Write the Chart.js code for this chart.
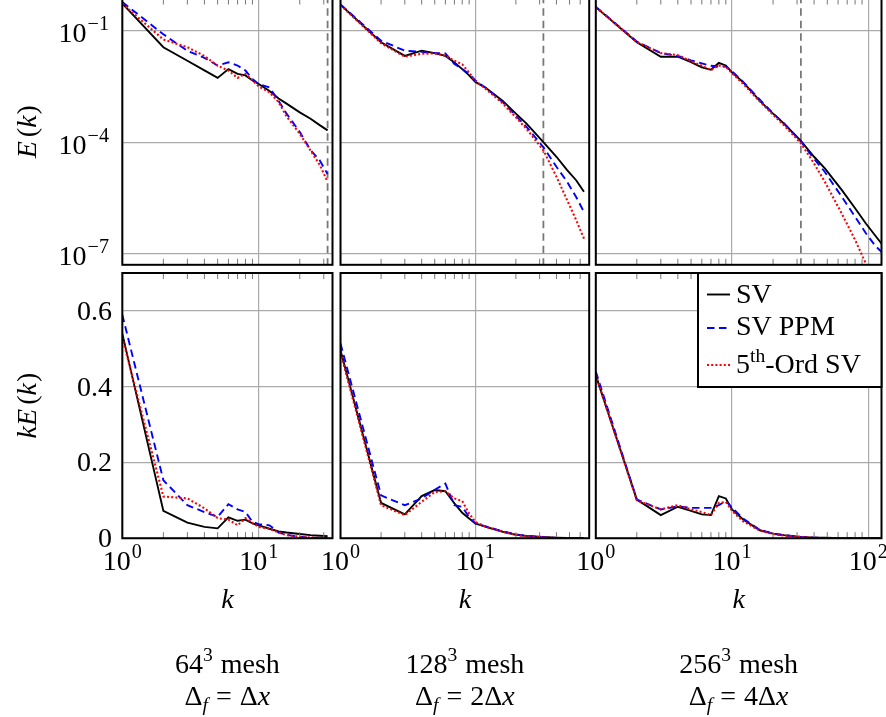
<!DOCTYPE html>
<html>
<head>
<meta charset="utf-8">
<title>Energy spectra</title>
<script src="https://cdn.jsdelivr.net/npm/chart.js@4.4.1/dist/chart.umd.min.js"></script>
<style>
  body { margin: 0; background: #fff; }
  #wrap { position: relative; width: 886px; height: 717px; overflow: hidden; }
  #wrap canvas { position: absolute; left: 0; top: -10px; }
</style>
</head>
<body>
<div id="wrap"></div>
<script>
// wavenumbers for each mesh
const k64 = [1, 2, 3, 4, 5, 6, 7, 8, 9, 10, 12, 14, 16, 20, 24, 28, 32]
const k128 = [1, 2, 3, 4, 5, 6, 7, 8, 9, 10, 12, 16, 20, 24, 32, 40, 48, 56, 64]
const k256 = [1, 2, 3, 4, 5, 6, 7, 8, 9, 10, 12, 16, 20, 24, 32, 40, 48, 64, 80, 96, 112, 128]

// E(k)
const E64_SV = [0.54, 0.036, 0.0156, 0.0086, 0.0054, 0.0093, 0.0069, 0.0063, 0.0046, 0.0037, 0.0024, 0.0015, 0.0011, 6.4e-4, 4.3e-4, 2.9e-4, 2.1e-4]
const E64_PPM = [0.59, 0.08, 0.029, 0.0185, 0.0116, 0.0142, 0.0116, 0.0085, 0.005, 0.0037, 0.003, 0.0013, 5.9e-4, 1.9e-4, 6.2e-5, 3.3e-5, 1.4e-5]
const E64_5th = [0.53, 0.058, 0.036, 0.021, 0.0115, 0.0085, 0.0054, 0.007, 0.0046, 0.0032, 0.0022, 0.0012, 5e-4, 1.7e-4, 6e-5, 2.5e-5, 8.7e-6]

const E128_SV = [0.5, 0.049, 0.021, 0.029, 0.025, 0.021, 0.014, 0.0093, 0.0063, 0.0042, 0.0029, 0.0013, 5.9e-4, 3.2e-4, 1.02e-4, 4.1e-5, 1.8e-5, 9.6e-6, 4.7e-6]
const E128_PPM = [0.51, 0.054, 0.029, 0.027, 0.025, 0.0245, 0.0128, 0.0093, 0.0069, 0.0046, 0.0029, 0.0012, 5.2e-4, 2.6e-4, 7.4e-5, 2.2e-5, 8.7e-6, 3.4e-6, 1.35e-6]
const E128_5th = [0.49, 0.046, 0.02, 0.024, 0.0245, 0.0213, 0.0156, 0.0125, 0.0075, 0.0045, 0.0027, 0.0011, 4.7e-4, 2.3e-4, 6.1e-5, 1.2e-5, 2.8e-6, 8.2e-7, 2.6e-7]

const E256_SV = [0.43, 0.049, 0.02, 0.02, 0.0144, 0.0104, 0.0089, 0.0136, 0.0116, 0.0076, 0.0042, 0.0013, 5.9e-4, 3.2e-4, 1.1e-4, 4.1e-5, 2e-5, 5.2e-6, 1.7e-6, 6.6e-7, 3.2e-7, 1.7e-7]
const E256_PPM = [0.44, 0.051, 0.025, 0.021, 0.016, 0.0133, 0.0114, 0.0109, 0.0109, 0.0081, 0.0043, 0.0014, 6e-4, 3.3e-4, 1.05e-4, 3.6e-5, 1.6e-5, 3.4e-6, 1e-6, 3.6e-7, 1.7e-7, 1.05e-7]
const E256_5th = [0.43, 0.05, 0.025, 0.022, 0.0152, 0.0115, 0.0087, 0.0116, 0.0107, 0.0072, 0.0038, 1.25e-3, 5.5e-4, 2.9e-4, 9.5e-5, 2.7e-5, 8.7e-6, 1.2e-6, 2.4e-7, 5.5e-8, 1.2e-8, 3e-9]

// kE(k)
const kE64_SV = [0.54, 0.072, 0.041, 0.030, 0.026, 0.055, 0.046, 0.049, 0.039, 0.034, 0.025, 0.018, 0.015, 0.011, 0.008, 0.0065, 0.0055]
const kE64_PPM = [0.59, 0.153, 0.087, 0.069, 0.056, 0.09, 0.076, 0.069, 0.043, 0.037, 0.034, 0.015, 0.009, 0.0038, 0.0015, 0.0009, 0.0005]
const kE64_5th = [0.53, 0.11, 0.105, 0.079, 0.053, 0.049, 0.034, 0.053, 0.04, 0.03, 0.025, 0.015, 0.008, 0.004, 0.0016, 0.0008, 0.0003]

const kE128_SV = [0.496, 0.093, 0.063, 0.111, 0.127, 0.124, 0.092, 0.067, 0.052, 0.039, 0.030, 0.017, 0.009, 0.006, 0.003, 0.0016, 0.0009, 0.0005, 0.0003]
const kE128_PPM = [0.514, 0.113, 0.087, 0.105, 0.128, 0.144, 0.087, 0.083, 0.056, 0.039, 0.031, 0.018, 0.010, 0.006, 0.0024, 0.0009, 0.0004, 0.0002, 0.0001]
const kE128_5th = [0.49, 0.087, 0.061, 0.096, 0.122, 0.124, 0.105, 0.098, 0.065, 0.043, 0.030, 0.017, 0.009, 0.005, 0.002, 0.0005, 0.0001, 0.00005, 0.00002]

const kE256_SV = [0.43, 0.102, 0.061, 0.083, 0.072, 0.063, 0.061, 0.111, 0.105, 0.076, 0.050, 0.021, 0.012, 0.008, 0.0035, 0.0016, 0.001, 0.0003, 0.00014, 0.00006, 0.00004, 0.00002]
const kE256_PPM = [0.44, 0.102, 0.076, 0.084, 0.08, 0.08, 0.08, 0.087, 0.098, 0.081, 0.052, 0.022, 0.012, 0.008, 0.0035, 0.0015, 0.0008, 0.0002, 0.0001, 0.00003, 0.00002, 0.00001]
const kE256_5th = [0.43, 0.1, 0.076, 0.087, 0.076, 0.069, 0.061, 0.093, 0.096, 0.072, 0.045, 0.02, 0.011, 0.007, 0.003, 0.001, 0.0004, 0.0001, 0.00002, 0, 0, 0]

// filter cutoff wavenumber (dashed line in the top row)
const kCut = 32

const xTicks = [1, 10, 100]
const yTicksE = [1e-1, 1e-4, 1e-7]
const yTicksKE = [0, 0.2, 0.4, 0.6]
const meshes = ['64', '128', '256']
const filterWidth = ['', '2', '4']

// layout (page pixels)
const W = 886, H = 717, OY = 10
const cols = [[122.3, 332.5], [340.5, 589.2], [595.8, 881.5]]
const rows = [[-1.5, 264.8], [273, 538.2]]
const xMax = [34.76, 69.98, 125]

const FONT = "'Liberation Serif', 'DejaVu Serif', serif"
const FS = 28      // numbers
const FT = 28      // words

const styles = [
  { borderColor: '#000000', borderWidth: 1.9, borderDash: [], order: 3 },
  { borderColor: '#0000ff', borderWidth: 1.9, borderDash: [7.5, 4.5], order: 2 },
  { borderColor: '#ff0000', borderWidth: 2.1, borderDash: [2, 2.2], order: 1 }
]

function drawRich(ctx, parts, x, y, align, base) {
  const fs = base || FS
  let w = 0
  const m = parts.map(p => {
    const size = fs * (p.s || 1)
    const font = (p.it ? 'italic ' : '') + size + 'px ' + FONT
    ctx.font = font
    const pw = ctx.measureText(p.t).width
    const r = { p, font, x: w + (p.pre || 0) }
    w += (p.pre || 0) + pw
    return r
  })
  const x0 = align === 'center' ? x - w / 2 : align === 'right' ? x - w : x
  ctx.textAlign = 'left'
  ctx.textBaseline = 'alphabetic'
  m.forEach(r => {
    ctx.font = r.font
    ctx.fillText(r.p.t, x0 + r.x, y - (r.p.dy || 0) * fs)
  })
}

const pow10 = e => [{ t: '10' }, { t: e < 0 ? '\u2212' + (-e) : '' + e, s: 0.72, dy: 0.43, pre: 1 }]

function decor(p) {
  return {
    id: 'decor',
    afterDraw(chart) {
      const ctx = chart.ctx, a = chart.chartArea, xs = chart.scales.x, ys = chart.scales.y
      ctx.save()
      // minor x ticks on top and bottom edges
      ctx.strokeStyle = '#777'
      ctx.lineWidth = 1
      ctx.beginPath()
      for (let d = 1; d <= 100; d *= 10) {
        for (let m = 2; m <= 9; m++) {
          const v = m * d
          if (v >= xs.max) continue
          const px = xs.getPixelForValue(v)
          ctx.moveTo(px, a.top); ctx.lineTo(px, a.top + 6)
          ctx.moveTo(px, a.bottom); ctx.lineTo(px, a.bottom - 6)
        }
      }
      ctx.stroke()
      // frame
      ctx.strokeStyle = '#000'
      ctx.lineWidth = 2
      ctx.strokeRect(a.left, a.top, a.right - a.left, a.bottom - a.top)
      ctx.fillStyle = '#000'

      if (p.col === 0) {
        if (p.row === 0) {
          yTicksE.forEach(v => drawRich(ctx, pow10(Math.round(Math.log10(v))), 109, ys.getPixelForValue(v) + 0.4 * FS, 'right'))
        } else {
          yTicksKE.forEach(v => drawRich(ctx, [{ t: v === 0 ? '0' : v.toFixed(1) }], 112, ys.getPixelForValue(v) + 0.32 * FS, 'right'))
        }
        ctx.save()
        ctx.translate(27, (a.top + a.bottom) / 2)
        ctx.rotate(-Math.PI / 2)
        const title = p.row === 0
          ? [{ t: 'E', it: 1 }, { t: '(', pre: 4 }, { t: 'k', it: 1 }, { t: ')', pre: 1 }]
          : [{ t: 'kE', it: 1 }, { t: '(', pre: 4 }, { t: 'k', it: 1 }, { t: ')', pre: 1 }]
        drawRich(ctx, title, 0, 0.33 * FT, 'center', FT)
        ctx.restore()
      }

      if (p.row === 1) {
        xTicks.filter(v => v <= xs.max).forEach(v => {
          drawRich(ctx, pow10(Math.round(Math.log10(v))), xs.getPixelForValue(v), 570 + OY, 'center')
        })
        const cx = (a.left + a.right) / 2
        drawRich(ctx, [{ t: 'k', it: 1 }], cx, 608 + OY, 'center', FT)
        drawRich(ctx, [{ t: meshes[p.col] }, { t: '3', s: 0.7, dy: 0.42 }, { t: ' mesh', pre: 1 }], cx, 673 + OY, 'center', FT)
        drawRich(ctx, [{ t: '\u0394' }, { t: 'f', it: 1, s: 0.7, dy: -0.2 }, { t: '=', pre: 8 },
          { t: filterWidth[p.col] + '\u0394', pre: 8 }, { t: 'x', it: 1 }], cx, 705 + OY, 'center', FT)
      }

      if (p.legend) {
        const lx = 698, lt = a.top, lr = a.right, lb = 387 + OY
        ctx.fillStyle = '#fff'
        ctx.fillRect(lx, lt, lr - lx, lb - lt)
        ctx.strokeStyle = '#000'
        ctx.lineWidth = 2
        ctx.strokeRect(lx, lt, lr - lx, lb - lt)
        const lineY = [294.5, 328, 365]
        const baseY = [303.3, 335, 373.3]
        const texts = [[{ t: 'SV' }], [{ t: 'SV PPM' }], [{ t: '5' }, { t: 'th', s: 0.7, dy: 0.42 }, { t: '-Ord SV' }]]
        styles.forEach((s, i) => {
          ctx.strokeStyle = s.borderColor
          ctx.lineWidth = s.borderWidth
          ctx.setLineDash(s.borderDash)
          ctx.beginPath()
          ctx.moveTo(707, lineY[i] + OY)
          ctx.lineTo(730, lineY[i] + OY)
          ctx.stroke()
          ctx.setLineDash([])
          ctx.fillStyle = '#000'
          drawRich(ctx, texts[i], 736, baseY[i] + OY, 'left', FT)
        })
      }
      ctx.restore()
    }
  }
}

const toPts = (ks, vs) => ks.map((k, i) => ({ x: k, y: vs[i] }))

const panels = [
  { row: 0, col: 0, k: k64, s: [E64_SV, E64_PPM, E64_5th] },
  { row: 0, col: 1, k: k128, s: [E128_SV, E128_PPM, E128_5th] },
  { row: 0, col: 2, k: k256, s: [E256_SV, E256_PPM, E256_5th] },
  { row: 1, col: 0, k: k64, s: [kE64_SV, kE64_PPM, kE64_5th] },
  { row: 1, col: 1, k: k128, s: [kE128_SV, kE128_PPM, kE128_5th] },
  { row: 1, col: 2, k: k256, s: [kE256_SV, kE256_PPM, kE256_5th], legend: true }
]

const wrap = document.getElementById('wrap')

panels.forEach(p => {
  const cv = document.createElement('canvas')
  cv.width = W
  cv.height = H + OY
  wrap.appendChild(cv)

  const [l, r] = cols[p.col]
  const [t, b] = rows[p.row]

  const datasets = p.s.map((vals, i) => Object.assign({
    label: ['SV', 'SV PPM', '5th-Ord SV'][i],
    data: toPts(p.k, vals),
    pointRadius: 0,
    fill: false,
    tension: 0,
    borderCapStyle: 'butt'
  }, styles[i]))

  if (p.row === 0) {
    datasets.push({
      label: 'cutoff',
      data: [{ x: kCut, y: 1e-10 }, { x: kCut, y: 10 }],
      borderColor: '#777777',
      borderWidth: 1.8,
      borderDash: [7.5, 5],
      pointRadius: 0,
      order: 4
    })
  }

  const grid = { color: '#aaaaaa', lineWidth: 1.2, drawTicks: false }

  new Chart(cv, {
    type: 'line',
    data: { datasets: datasets },
    options: {
      responsive: false,
      animation: false,
      devicePixelRatio: 1,
      events: [],
      layout: {
        autoPadding: false,
        padding: { left: l, right: W - r, top: t + OY, bottom: H - b }
      },
      plugins: { legend: { display: false }, tooltip: { enabled: false } },
      scales: {
        x: {
          type: 'logarithmic',
          min: 1,
          max: xMax[p.col],
          grid: grid,
          border: { display: false },
          ticks: { display: false },
          afterBuildTicks: s => { s.ticks = xTicks.filter(v => v <= s.max).map(v => ({ value: v })) }
        },
        y: p.row === 0 ? {
          type: 'logarithmic',
          min: 5.13e-8,
          max: 0.733,
          grid: grid,
          border: { display: false },
          ticks: { display: false },
          afterBuildTicks: s => { s.ticks = yTicksE.map(v => ({ value: v })) }
        } : {
          type: 'linear',
          min: 0,
          max: 0.7,
          grid: grid,
          border: { display: false },
          ticks: { display: false },
          afterBuildTicks: s => { s.ticks = yTicksKE.map(v => ({ value: v })) }
        }
      }
    },
    plugins: [decor(p)]
  })
})
</script>
</body>
</html>
